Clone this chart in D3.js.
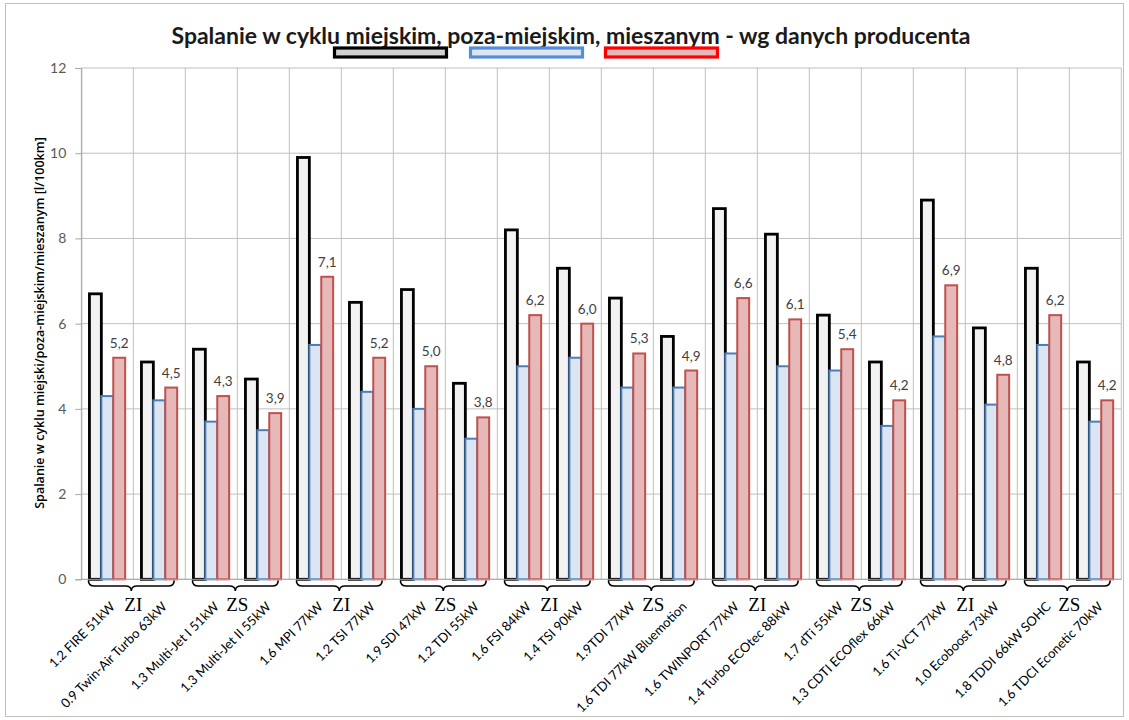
<!DOCTYPE html>
<html><head><meta charset="utf-8">
<script src="https://cdn.jsdelivr.net/npm/d3@7"></script>
<style>body{margin:0;background:#fff}svg{display:block}</style>
</head><body>
<svg id="c" width="1129" height="720"></svg>
<script>
const categories = ["1.2 FIRE 51kW","0.9 Twin-Air Turbo 63kW","1.3 Multi-Jet I 51kW","1.3 Multi-Jet II 55kW","1.6 MPI 77kW","1.2 TSI 77kW","1.9 SDI 47kW","1.2 TDI 55kW","1.6 FSI 84kW","1.4 TSI 90kW","1.9TDI 77kW","1.6 TDI 77kW Bluemotion","1.6 TWINPORT 77kW","1.4 Turbo ECOtec 88kW","1.7 dTi 55kW","1.3 CDTI ECOflex 66kW","1.6 Ti-VCT 77kW","1.0 Ecoboost 73kW","1.8 TDDI 66kW SOHC","1.6 TDCI Econetic 70kW"];
const miejski     = [6.7,5.1,5.4,4.7,9.9,6.5,6.8,4.6,8.2,7.3,6.6,5.7,8.7,8.1,6.2,5.1,8.9,5.9,7.3,5.1];
const pozamiejski = [4.3,4.2,3.7,3.5,5.5,4.4,4.0,3.3,5.0,5.2,4.5,4.5,5.3,5.0,4.9,3.6,5.7,4.1,5.5,3.7];
const mieszany    = [5.2,4.5,4.3,3.9,7.1,5.2,5.0,3.8,6.2,6.0,5.3,4.9,6.6,6.1,5.4,4.2,6.9,4.8,6.2,4.2];
const groupLabels = ["ZI","ZS","ZI","ZS","ZI","ZS","ZI","ZS","ZI","ZS"];
const yTicks = [0,2,4,6,8,10,12];
const title = "Spalanie w cyklu miejskim, poza-miejskim, mieszanym - wg danych producenta";
const yTitle = "Spalanie w cyklu miejski/poza-miejskim/mieszanym  [l/100km]";

const seriesKeys = ["miejski","pozamiejski","mieszany"];
const seriesData = {miejski, pozamiejski, mieszany};
const styles = {
  miejski:{fill:"#f2f2f2",stroke:"#000000",sw:2.8},
  pozamiejski:{fill:"#dce6f2",stroke:"#4a7ebb",sw:2},
  mieszany:{fill:"#e6b9b8",stroke:"#c0504d",sw:2}
};
const legendStyles = [
  {fill:"#d0d0d0",stroke:"#000000"},
  {fill:"#dce6f2",stroke:"#558ed5"},
  {fill:"#e6b9b8",stroke:"#ff0000"}
];

const svg = d3.select("#c");
const L=81.3, R=1121.3, T=68, B=579.3;
const FONT = "Lato, 'Liberation Sans', sans-serif";
// outer chart border
svg.append("rect").attr("x",5.5).attr("y",3.5).attr("width",1118).attr("height",713)
  .attr("fill","none").attr("stroke","#bfbfbf").attr("stroke-width",1);

const x0 = d3.scaleBand().domain(categories).range([L,R]).paddingInner(0.313).paddingOuter(0.1565);
const x1 = d3.scaleBand().domain(seriesKeys).range([0,x0.bandwidth()]).padding(0);
const y = d3.scaleLinear().domain([0,12]).range([B,T]);

// gridlines
const g = svg.append("g");
g.selectAll("line.h").data(yTicks).join("line")
  .attr("x1",L).attr("x2",R).attr("y1",d=>y(d)).attr("y2",d=>y(d))
  .attr("stroke","#c0c0c0").attr("stroke-width",1);
const step = x0.step();
g.selectAll("line.v").data(d3.range(categories.length+1)).join("line")
  .attr("x1",i=>L+i*step).attr("x2",i=>L+i*step).attr("y1",T).attr("y2",B)
  .attr("stroke","#c0c0c0").attr("stroke-width",1);

// y axis
const yAxis = svg.append("g").attr("transform",`translate(${L},0)`)
  .call(d3.axisLeft(y).tickValues(yTicks).tickSize(6).tickPadding(9));
yAxis.select(".domain").attr("stroke","#a6a6a6");
yAxis.selectAll(".tick line").attr("stroke","#a6a6a6");
yAxis.selectAll("text").attr("font-family",FONT).attr("font-size",14).attr("fill","#595959");

// bars
const cats = svg.append("g").selectAll("g").data(categories).join("g")
  .attr("transform",d=>`translate(${x0(d)},0)`);
seriesKeys.forEach(k=>{
  cats.append("rect")
    .attr("x",x1(k)).attr("width",x1.bandwidth())
    .attr("y",(d,i)=>y(seriesData[k][i])).attr("height",(d,i)=>B-y(seriesData[k][i]))
    .attr("fill",styles[k].fill).attr("stroke",styles[k].stroke).attr("stroke-width",styles[k].sw);
});
// data labels on combined
cats.append("text")
  .attr("x",x1("mieszany")+x1.bandwidth()/2)
  .attr("y",(d,i)=>y(mieszany[i])-10)
  .attr("text-anchor","middle").attr("font-family",FONT)
  .attr("font-size",13.5).attr("fill","#404040")
  .text((d,i)=>d3.format(".1f")(mieszany[i]).replace(".",","));

// x axis line
svg.append("line").attr("x1",L).attr("x2",R).attr("y1",B).attr("y2",B).attr("stroke","#a6a6a6");

// category labels
svg.append("g").selectAll("text").data(categories).join("text")
  .attr("transform",d=>`translate(${x0(d)+x0.bandwidth()/2+1},${600}) rotate(-45)`)
  .attr("text-anchor","end").attr("dominant-baseline","hanging")
  .attr("font-family",FONT).attr("font-size",13).attr("fill","#000")
  .text(d=>d);

// braces and group labels
const br = svg.append("g");
groupLabels.forEach((lab,p)=>{
  const a = categories[2*p], b = categories[2*p+1];
  const xs = x0(a)-1, xe = x0(b)+x0.bandwidth()-3, xm=(xs+xe)/2;
  const y0=580.5, ym=586, yt=591, r=6;
  br.append("path")
    .attr("d",`M${xs},${y0} Q${xs},${ym} ${xs+r},${ym} L${xm-r},${ym} Q${xm},${ym} ${xm},${yt} Q${xm},${ym} ${xm+r},${ym} L${xe-r},${ym} Q${xe},${ym} ${xe},${y0}`)
    .attr("fill","none").attr("stroke","#000").attr("stroke-width",1.6);
  br.append("text").attr("x",xm+2).attr("y",611).attr("text-anchor","middle")
    .attr("font-family","'Liberation Serif', 'DejaVu Serif', serif").attr("font-size",19).attr("fill","#000")
    .text(lab);
});

// title
svg.append("text").attr("x",571).attr("y",44).attr("text-anchor","middle")
  .attr("font-family",FONT).attr("font-weight","bold").attr("font-size",23)
  .attr("fill","#1a1a1a").text(title);
// legend
const legX=[333,469,604];
legendStyles.forEach((s,i)=>{
  svg.append("rect").attr("x",legX[i]+1.5).attr("y",48).attr("width",112).attr("height",9)
    .attr("fill",s.fill).attr("stroke",s.stroke).attr("stroke-width",3.2);
});

// y title
svg.append("text").attr("transform",`translate(44,${323}) rotate(-90)`)
  .attr("text-anchor","middle").attr("font-family","'Open Sans', sans-serif")
  .attr("font-weight","600").attr("font-size",12.5).attr("fill","#000")
  .text(yTitle);
</script>
</body></html>
